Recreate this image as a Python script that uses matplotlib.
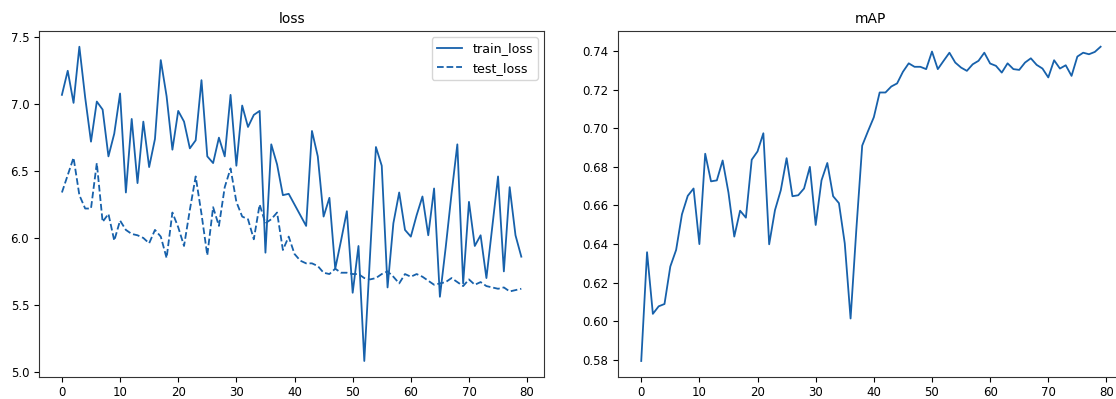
import numpy as np
import matplotlib
matplotlib.use('Agg')
import matplotlib.pyplot as plt

# values
epochs = list(range(80))

train_loss = [7.07, 7.25, 7.01, 7.43, 7.05, 6.72, 7.02, 6.96, 6.61, 6.78,
              7.08, 6.34, 6.89, 6.41, 6.87, 6.53, 6.74, 7.33, 7.06, 6.66,
              6.95, 6.87, 6.67, 6.73, 7.18, 6.61, 6.56, 6.75, 6.61, 7.07,
              6.54, 6.99, 6.83, 6.92, 6.95, 5.89, 6.70, 6.55, 6.32, 6.33,
              6.25, 6.17, 6.09, 6.80, 6.61, 6.16, 6.30, 5.77, 5.98, 6.20,
              5.59, 5.94, 5.08, 5.88, 6.68, 6.54, 5.63, 6.11, 6.34, 6.06,
              6.01, 6.17, 6.31, 6.02, 6.37, 5.56, 5.93, 6.33, 6.70, 5.66,
              6.27, 5.94, 6.02, 5.70, 6.08, 6.46, 5.75, 6.38, 6.02, 5.86]

test_loss = [6.34, 6.47, 6.60, 6.32, 6.22, 6.22, 6.56, 6.12, 6.18, 5.98,
             6.13, 6.06, 6.03, 6.02, 6.00, 5.96, 6.06, 6.01, 5.85, 6.19,
             6.08, 5.94, 6.21, 6.46, 6.18, 5.87, 6.23, 6.09, 6.38, 6.52,
             6.27, 6.16, 6.14, 5.99, 6.25, 6.11, 6.14, 6.19, 5.91, 6.01,
             5.88, 5.83, 5.81, 5.81, 5.79, 5.74, 5.73, 5.77, 5.74, 5.74,
             5.73, 5.73, 5.70, 5.69, 5.70, 5.73, 5.75, 5.71, 5.66, 5.73,
             5.71, 5.73, 5.71, 5.68, 5.65, 5.66, 5.67, 5.70, 5.67, 5.64,
             5.69, 5.65, 5.67, 5.64, 5.63, 5.62, 5.63, 5.60, 5.61, 5.62]

mAP = [0.5795, 0.6358, 0.6039, 0.6078, 0.6090, 0.6284, 0.6370, 0.6554, 0.6650, 0.6688,
       0.6400, 0.6868, 0.6725, 0.6730, 0.6833, 0.6667, 0.6439, 0.6573, 0.6537, 0.6837,
       0.6880, 0.6974, 0.6399, 0.6576, 0.6679, 0.6845, 0.6648, 0.6653, 0.6688, 0.6800,
       0.6499, 0.6730, 0.6820, 0.6648, 0.6612, 0.6404, 0.6015, 0.6480, 0.6910, 0.6985,
       0.7057, 0.7185, 0.7185, 0.7216, 0.7232, 0.7292, 0.7336, 0.7318, 0.7318, 0.7306,
       0.7397, 0.7306, 0.7349, 0.7391, 0.7340, 0.7314, 0.7297, 0.7331, 0.7349, 0.7391,
       0.7335, 0.7323, 0.7288, 0.7336, 0.7306, 0.7302, 0.7340, 0.7362, 0.7328, 0.7309,
       0.7263, 0.7352, 0.7309, 0.7326, 0.7271, 0.7371, 0.7391, 0.7383, 0.7395, 0.7422]

line_color = '#1761ab'

plt.rcParams['font.size'] = 8.5
plt.rcParams['axes.titlesize'] = 10

fig = plt.figure(figsize=(11.16, 3.99), dpi=100)

# loss panel
ax1 = fig.add_axes([0.0349, 0.0559, 0.4528, 0.8664])
ax1.plot(epochs, train_loss, color=line_color, lw=1.3, label='train_loss')
ax1.plot(epochs, test_loss, color=line_color, lw=1.3, ls='--', label='test_loss')
ax1.set_title('loss')
ax1.set_yticks([5.0, 5.5, 6.0, 6.5, 7.0, 7.5])
ax1.set_xticks([0, 10, 20, 30, 40, 50, 60, 70, 80])
ax1.legend(loc='upper right', fontsize=9.1)

# mAP panel, right edge is cropped off like the reference
ax2 = fig.add_axes([0.5540, 0.0559, 0.4528, 0.8664])
ax2.plot(epochs, mAP, color=line_color, lw=1.3)
ax2.set_title('mAP')
ax2.set_yticks(np.arange(0.58, 0.7401, 0.02))
ax2.set_xticks([0, 10, 20, 30, 40, 50, 60, 70, 80])

for ax in (ax1, ax2):
    for sp in ax.spines.values():
        sp.set_color('#333333')

fig.savefig('out.png', dpi=100)
